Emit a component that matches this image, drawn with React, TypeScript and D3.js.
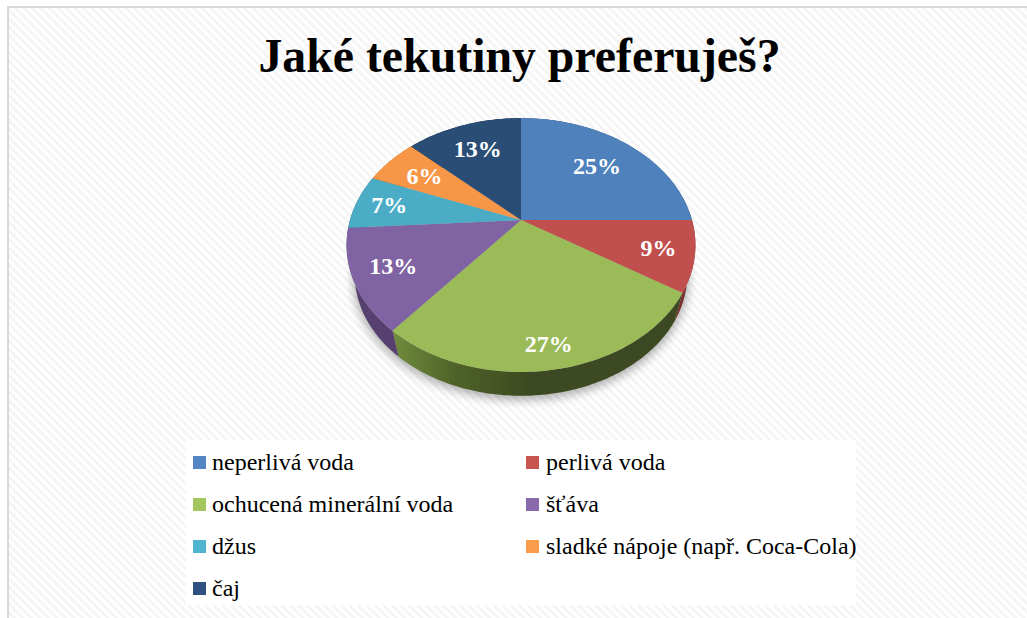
import React from "react";
import * as d3 from "d3";

const title = "Jaké tekutiny preferuješ?";
const categories = [
  "neperlivá voda",
  "perlivá voda",
  "ochucená minerální voda",
  "šťáva",
  "džus",
  "sladké nápoje (např. Coca-Cola)",
  "čaj",
];
const shares = [25, 9, 27, 13, 7, 6, 13];
const sliceColors = ["#4f81bd", "#c0504d", "#9bbb59", "#8064a2", "#4bacc6", "#f79646", "#2c4d75"];
const wallColors = ["#33547b", "#7a2f2d", "url(#greenWall)", "#54406f", "#2f7387", "#a8632a", "#1c324d"];
const swatchColors = ["#5585c4", "#c85550", "#a4c65f", "#8869ab", "#50b5d0", "#fb9c4c", "#2f5180"];
const labelReach = [0.69, 0.8, 0.86, 0.78, 0.8, 0.72, 0.72];

const WIDTH = 1027;
const HEIGHT = 618;
const APEX = { x: 521, y: 220 };
const RX = 171;
const RY = 122;
const TILT = 0.197;
const WALL_DROP = 31;
const WALL_SCALE = 0.953;

// Tilted disc: maps polar coordinates (clockwise from 12 o'clock) to the screen.
function project(angle: number, reach: number, drop = 0, scale = 1): [number, number] {
  const u = Math.sin(angle) * reach;
  const v = -Math.cos(angle) * reach;
  const w = 1 - TILT * v;
  return [APEX.x + (scale * RX * u) / w, APEX.y + drop + (scale * RY * v) / w];
}

const pieLayout = d3
  .pie<number>()
  .sort(null)
  .value((d) => d);

const slices = pieLayout(shares);
const outline = d3.line();

function sweep(start: number, end: number, drop = 0, scale = 1): [number, number][] {
  const steps = Math.max(8, Math.ceil(((end - start) * 180) / Math.PI));
  return d3.range(steps + 1).map((i) => project(start + ((end - start) * i) / steps, 1, drop, scale));
}

function facePath(start: number, end: number): string {
  return outline([[APEX.x, APEX.y], ...sweep(start, end)])! + "Z";
}

function wallPath(start: number, end: number): string {
  return outline([...sweep(start, end), ...sweep(start, end, WALL_DROP, WALL_SCALE).reverse()])! + "Z";
}

const legendX = d3.scalePoint<number>().domain([0, 1]).range([193, 526]);
const legendY = d3.scaleLinear().domain([0, 3]).range([456, 582]);

export default function App() {
  return (
    <svg
      width={WIDTH}
      height={HEIGHT}
      viewBox={`0 0 ${WIDTH} ${HEIGHT}`}
      style={{ position: "absolute", left: 0, top: 0, display: "block", background: "#fff" }}
    >
      <defs>
        <pattern
          id="weave"
          width="6"
          height="6"
          patternUnits="userSpaceOnUse"
          patternTransform="rotate(-45 9 8)"
        >
          <rect width="6" height="6" fill="#ffffff" />
          <rect width="3" height="6" fill="#f5f5f5" />
        </pattern>
        <linearGradient id="greenWall" gradientUnits="userSpaceOnUse" x1="395" x2="530" y1="0" y2="0">
          <stop offset="0" stopColor="#6f8a3c" />
          <stop offset="0.45" stopColor="#4f6229" />
          <stop offset="1" stopColor="#3d4a20" />
        </linearGradient>
        <filter id="soft" x="-20%" y="-20%" width="140%" height="140%">
          <feGaussianBlur stdDeviation="5" />
        </filter>
        <filter id="smooth" x="-5%" y="-5%" width="110%" height="110%">
          <feGaussianBlur stdDeviation="0.5" />
        </filter>
      </defs>

      <rect x={7} y={6} width={WIDTH} height={HEIGHT} fill="#d9d9d9" />
      <rect x={9} y={8} width={WIDTH} height={HEIGHT} fill="url(#weave)" />

      <text
        x={519.5}
        y={72}
        textAnchor="middle"
        fontFamily="'Liberation Serif', serif"
        fontWeight="bold"
        fontSize={47.8}
        fill="#000"
      >
        {title}
      </text>

      <path
        d={outline(sweep(0, 2 * Math.PI, WALL_DROP + 3, WALL_SCALE * 1.01))! + "Z"}
        fill="#000"
        opacity={0.3}
        filter="url(#soft)"
      />

      <g filter="url(#smooth)">
        {slices.map((s, i) => (
          <path key={`wall-${i}`} d={wallPath(s.startAngle, s.endAngle)} fill={wallColors[i]} />
        ))}
        {slices.map((s, i) => (
          <path key={`face-${i}`} d={facePath(s.startAngle, s.endAngle)} fill={sliceColors[i]} />
        ))}
      </g>

      {slices.map((s, i) => {
        const [x, y] = project((s.startAngle + s.endAngle) / 2, labelReach[i]);
        return (
          <text
            key={`label-${i}`}
            x={x}
            y={y + 8}
            textAnchor="middle"
            fontFamily="'Liberation Serif', serif"
            fontWeight="bold"
            fontSize={24}
            fill="#fff"
          >
            {`${s.data}%`}
          </text>
        );
      })}

      <rect x={186} y={440} width={670} height={165} fill="#fff" />
      {categories.map((name, i) => {
        const x = legendX(i % 2)!;
        const y = legendY(Math.floor(i / 2));
        return (
          <g key={name}>
            <rect x={x} y={y} width={13} height={13} fill={swatchColors[i]} />
            <text
              x={x + (i % 2 ? 20 : 19)}
              y={y + 14}
              fontFamily="'Liberation Serif', serif"
              fontSize={24}
              fill="#000"
            >
              {name}
            </text>
          </g>
        );
      })}
    </svg>
  );
}
